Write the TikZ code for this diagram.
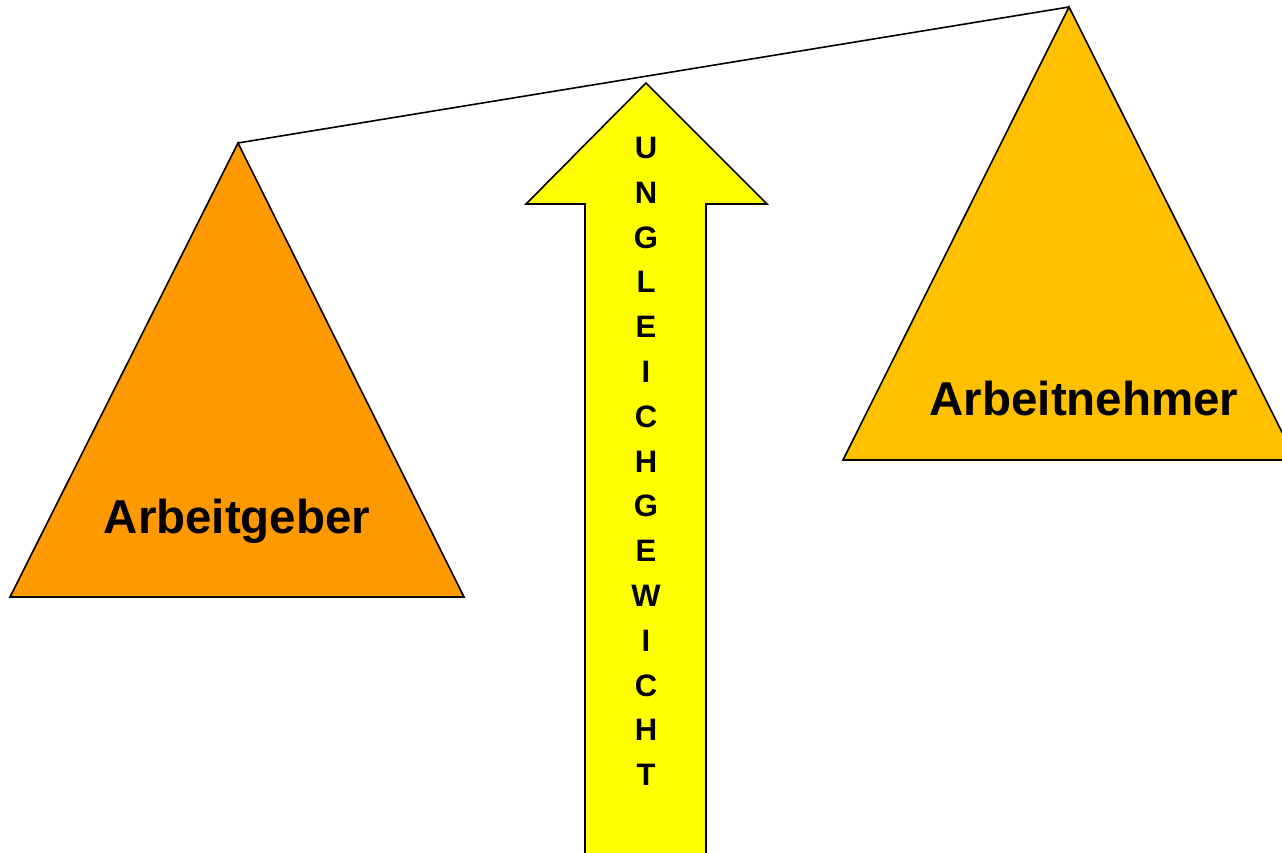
\documentclass[tikz,border=0pt]{standalone}
\usepackage{fontspec}
\setmainfont{Liberation Sans}
\definecolor{orangeL}{HTML}{FF9900}
\definecolor{orangeR}{HTML}{FFC000}
\definecolor{arrowY}{HTML}{FFFF00}
\tikzset{
  shapeline/.style={draw=black, line width=1.6pt, line join=miter},
  bigtext/.style={font=\bfseries\fontsize{47.5}{52}\selectfont, inner sep=0pt},
  lettertext/.style={font=\bfseries\fontsize{31}{44.8}\selectfont, align=center, inner sep=0pt},
}
\begin{document}
\begin{tikzpicture}[x=1pt,y=-1pt]
\useasboundingbox (0,0) rectangle (1282,852);
\begin{scope}
\clip (0,0) rectangle (1282,852);
% coordinates
\coordinate (lapex) at (238,143);
\coordinate (rapex) at (1069,7);
% left triangle
\path[shapeline, fill=orangeL] (lapex) -- (464,597) -- (10,597) -- cycle;
% right triangle
\path[shapeline, fill=orangeR] (rapex) -- (1296,460) -- (843,460) -- cycle;
% beam
\draw[line width=1.6pt] (lapex) -- (rapex);
% arrow
\path[shapeline, fill=arrowY] (646,83) -- (767,204) -- (706,204) -- (706,870) -- (585,870) -- (585,204) -- (526,204) -- cycle;
\end{scope}
\node[bigtext] (ag) at (237,521) {Arbeitgeber};
\node[bigtext] (an) at (1084,399) {Arbeitnehmer};
\node[lettertext, anchor=north] (uw) at (646,137) {U\\N\\G\\L\\E\\I\\C\\H\\G\\E\\W\\I\\C\\H\\T};
\end{tikzpicture}
\end{document}
